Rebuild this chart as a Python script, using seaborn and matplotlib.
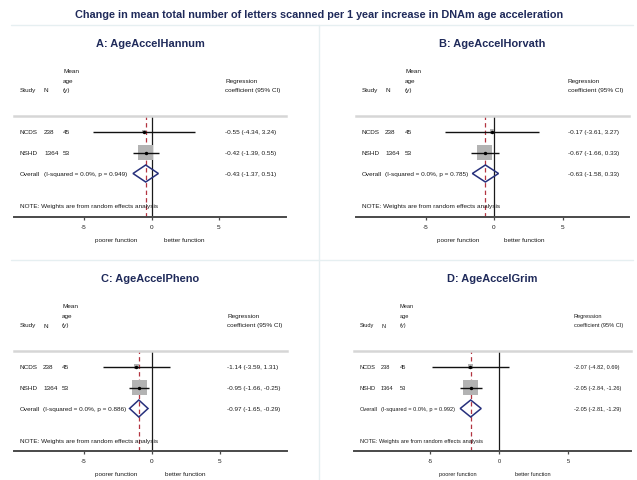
import numpy as np
import pandas as pd
import matplotlib
matplotlib.use("Agg")
import matplotlib.pyplot as plt
from matplotlib.lines import Line2D
from matplotlib.patches import Polygon
from matplotlib import transforms
import seaborn as sns

# ---------------- data ----------------
main_title = ("Change in mean total number of letters scanned per 1 year "
              "increase in DNAm age acceleration")
panel_titles = ["A: AgeAccelHannum", "B: AgeAccelHorvath",
                "C: AgeAccelPheno", "D: AgeAccelGrim"]
studies = ["NCDS", "NSHD"]
study_n = [238, 1364]
study_mean_age = [45, 53]

ncds_est = [-0.55, -0.17, -1.14, -2.07]
ncds_lo = [-4.34, -3.61, -3.59, -4.82]
ncds_hi = [3.24, 3.27, 1.31, 0.69]
nshd_est = [-0.42, -0.67, -0.95, -2.05]
nshd_lo = [-1.39, -1.66, -1.66, -2.84]
nshd_hi = [0.55, 0.33, -0.25, -1.26]
overall_est = [-0.43, -0.63, -0.97, -2.05]
overall_lo = [-1.37, -1.58, -1.65, -2.81]
overall_hi = [0.51, 0.33, -0.29, -1.29]
i_squared = [0.0, 0.0, 0.0, 0.0]
p_het = [0.949, 0.785, 0.886, 0.992]

x_ticks = [-5, 0, 5]
favours = ["poorer function", "better function"]
note_text = "NOTE: Weights are from random effects analysis"

# ---------------- layout (pixels on a 637 x 481 canvas) ----------------
W, H = 637, 481
layout = [
    # plot box, pixel of x=0, pixels per unit, text columns, font size, favour label offsets
    dict(L=14, R=286, top=117, bot=218, zero=151.5, scale=13.5,
         cols=(6, 30, 49, 211), fs=4.55, fav=(-35.5, 33)),
    dict(L=356, R=629, top=117, bot=218, zero=494, scale=13.7,
         cols=(6, 29, 49, 212), fs=4.55, fav=(-35.5, 30)),
    dict(L=14, R=287, top=352, bot=452, zero=152, scale=13.6,
         cols=(6, 29, 48, 213), fs=4.55, fav=(-35.5, 33)),
    dict(L=354, R=631, top=352, bot=452, zero=499, scale=13.8,
         cols=(6, 27, 46, 220), fs=4.1, fav=(-41, 34)),
]

TITLE_C = "#1f2a5a"
TEXT_C = "#1a1a1a"
NAVY = "#27307c"
DASH_C = "#b33440"

sns.set_theme(style="white")
plt.rcParams["font.family"] = ["Liberation Sans", "DejaVu Sans"]

fig = plt.figure(figsize=(W / 100, H / 100), dpi=100)
fig.patch.set_facecolor("white")

# light frame lines between the four graphs
frame_c = "#e6eff1"
for xs, ys in [((11, 633), (26, 26)), ((11, 633), (261, 261)), ((319, 319), (26, 481))]:
    fig.add_artist(Line2D([x / W for x in xs], [1 - y / H for y in ys],
                          transform=fig.transFigure, color=frame_c, lw=1.0))

fig.text(319 / W, 1 - 15 / H, main_title, ha="center", va="center",
         fontsize=7.8, fontweight="bold", color=TITLE_C)

row_y = [15.5, 36.5]
overall_y = 57.5
note_y = 89.5

for i, lay in enumerate(layout):
    L, R, top, bot, zero, scale = (lay["L"], lay["R"], lay["top"], lay["bot"],
                                   lay["zero"], lay["scale"])
    ax = fig.add_axes([L / W, 1 - bot / H, (R - L) / W, (bot - top) / H])
    lo_lim = (L - zero) / scale
    hi_lim = (R - zero) / scale
    ax.set_xlim(lo_lim, hi_lim)
    ax.set_ylim(bot - top, 0)
    ax.set_facecolor("none")

    def xpx(off):
        return lo_lim + off / scale

    fs = lay["fs"]
    c_study, c_n, c_age, c_coef = lay["cols"]

    # spines: header rule at top, axis line at bottom
    for s in ("left", "right"):
        ax.spines[s].set_visible(False)
    ax.spines["top"].set_color("#d6d6d6")
    ax.spines["top"].set_linewidth(1.8)
    ax.spines["bottom"].set_color("#4a4a4a")
    ax.spines["bottom"].set_linewidth(1.4)
    ax.set_yticks([])
    ax.set_xticks(x_ticks)
    ax.set_xticklabels([f"{t:d}" for t in x_ticks], fontsize=fs, color=TEXT_C)
    ax.tick_params(axis="x", bottom=True, length=2.5, width=0.9, color="#4a4a4a",
                   pad=2.2, direction="out")
    ax.grid(False)

    # reference lines
    ax.axvline(0, color="#1a1a1a", lw=0.9, zorder=1)
    ax.axvline(overall_est[i], color=DASH_C, lw=0.9, ls=(0, (3.5, 2.5)), zorder=1)

    est = [ncds_est[i], nshd_est[i]]
    lo = [ncds_lo[i], nshd_lo[i]]
    hi = [ncds_hi[i], nshd_hi[i]]
    inv_var = [1.0 / ((h - l) / 3.92) ** 2 for l, h in zip(lo, hi)]
    weight = [v / sum(inv_var) for v in inv_var]
    df = pd.DataFrame({"study": studies, "est": est, "lo": lo, "hi": hi,
                       "weight": weight, "y": row_y})

    # weight boxes: area proportional to weight
    full_side_pt = 15.5 * 0.72
    sns.scatterplot(data=df, x="est", y="y", size="weight", size_norm=(0, 1),
                    sizes=(0, full_side_pt ** 2), marker="s", color="#b3b3b3",
                    linewidth=0, legend=False, ax=ax, zorder=2)
    ax.hlines(df["y"], df["lo"], df["hi"], color="#111111", lw=1.0, zorder=3)
    sns.scatterplot(data=df, x="est", y="y", marker="o", s=(3.4 * 0.72) ** 2,
                    color="black", linewidth=0, legend=False, ax=ax, zorder=4)
    ax.set_xlabel("")
    ax.set_ylabel("")

    # pooled estimate diamond
    dh = 8.5
    diamond = Polygon([(overall_lo[i], overall_y), (overall_est[i], overall_y - dh),
                       (overall_hi[i], overall_y), (overall_est[i], overall_y + dh)],
                      closed=True, facecolor="none", edgecolor=NAVY, lw=1.1, zorder=5)
    ax.add_patch(diamond)

    tkw = dict(fontsize=fs, color=TEXT_C, va="center", ha="left", clip_on=False)
    # column headers
    ax.text(xpx(c_age), -45, "Mean", **tkw)
    ax.text(xpx(c_age), -35.5, "age", **tkw)
    ax.text(xpx(c_age), -26, "(y)", **tkw)
    ax.text(xpx(c_study), -26, "Study", **tkw)
    ax.text(xpx(c_n), -26, "N", **tkw)
    ax.text(xpx(c_coef), -35.5, "Regression", **tkw)
    ax.text(xpx(c_coef), -26, "coefficient (95% CI)", **tkw)

    # study rows
    for k in range(len(studies)):
        ax.text(xpx(c_study), row_y[k], studies[k], **tkw)
        ax.text(xpx(c_n), row_y[k], f"{study_n[k]}", **tkw)
        ax.text(xpx(c_age), row_y[k], f"{study_mean_age[k]}", **tkw)
        ax.text(xpx(c_coef), row_y[k], f"{est[k]:.2f} ({lo[k]:.2f}, {hi[k]:.2f})", **tkw)

    ax.text(xpx(c_study), overall_y, "Overall", **tkw)
    ax.text(xpx(c_n), overall_y,
            f"(I-squared = {i_squared[i]:.1f}%, p = {p_het[i]:.3f})", **tkw)
    ax.text(xpx(c_coef), overall_y,
            f"{overall_est[i]:.2f} ({overall_lo[i]:.2f}, {overall_hi[i]:.2f})", **tkw)
    ax.text(xpx(c_study), note_y, note_text, **tkw)

    # favour labels under the axis
    fy = (bot - top) + 22.5
    ax.text(lay["fav"][0] / scale, fy, favours[0], fontsize=fs, color=TEXT_C,
            ha="center", va="center", clip_on=False)
    ax.text(lay["fav"][1] / scale, fy, favours[1], fontsize=fs, color=TEXT_C,
            ha="center", va="center", clip_on=False)

    # graph title, centred over the plot box
    tr = transforms.blended_transform_factory(ax.transAxes, ax.transData)
    ax.text(0.5, -72.5, panel_titles[i], transform=tr, fontsize=7.9,
            fontweight="bold", color=TITLE_C, ha="center", va="center", clip_on=False)

fig.savefig("out.png", dpi=100, facecolor="white")
